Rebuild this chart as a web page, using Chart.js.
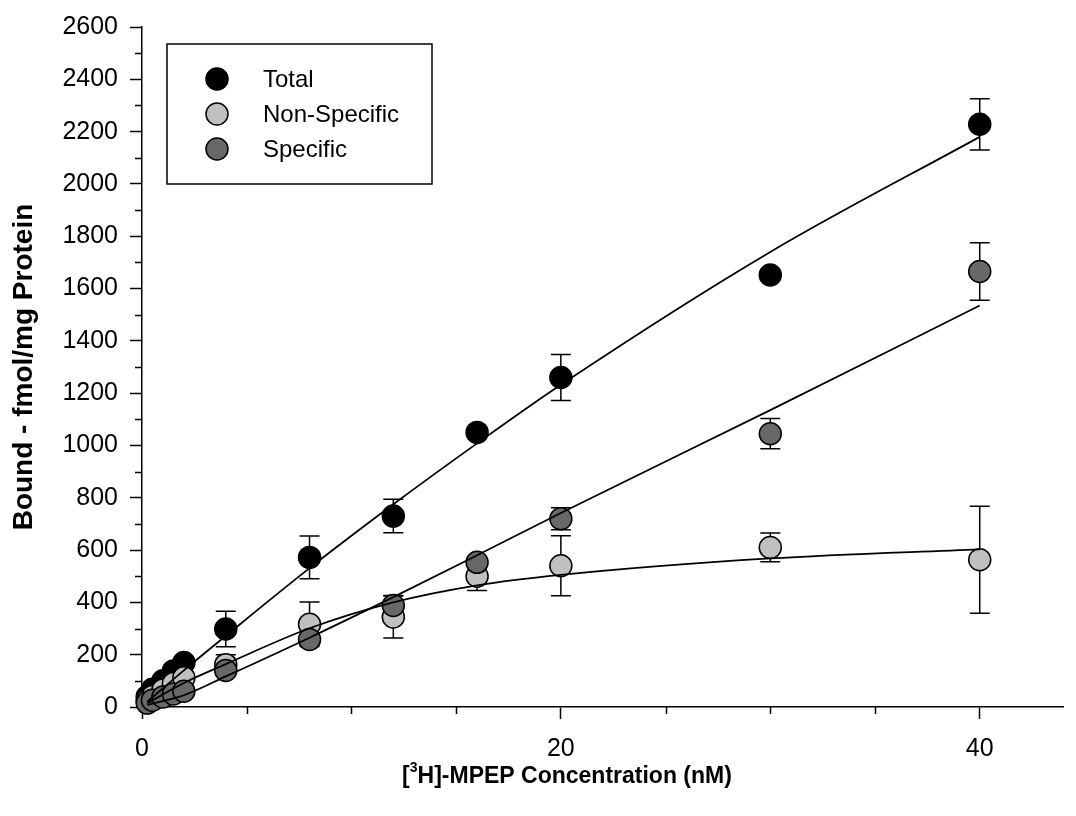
<!DOCTYPE html>
<html lang="en">
<head>
  <meta charset="UTF-8">
  <title>[3H]-MPEP saturation binding</title>
  <script src="https://cdn.jsdelivr.net/npm/chart.js@4.4.1/dist/chart.umd.min.js"></script>
  <style>
    html, body { margin: 0; padding: 0; background: #fff; }
    #chart { display: block; }
  </style>
</head>
<body>
<canvas id="chart" width="1076" height="816"></canvas>
<script>
  // concentrations (nM) of the measured points
  const conc = [0.25, 0.5, 1, 1.5, 2, 4, 8, 12, 16, 20, 30, 40];

  const total    = [40, 68, 100, 138, 170, 298, 572, 730, 1050, 1260, 1652, 2228];
  const totalErr = [5, 8, 10, 14, 20, 68, 82, 64, 15, 88, 10, 98];
  const nonSpec    = [25, 40, 65, 90, 112, 162, 316, 344, 500, 540, 610, 563];
  const nonSpecErr = [4, 6, 8, 10, 14, 38, 85, 80, 55, 115, 55, 205];
  const spec    = [15, 26, 38, 50, 60, 140, 258, 388, 553, 720, 1045, 1665];
  const specErr = [3, 4, 5, 6, 8, 18, 10, 38, 10, 42, 58, 110];

  // fitted curves
  const fitX       = [0.25, 2, 4, 8, 12, 16, 20, 30, 40];
  const totalFit   = [20, 140, 272, 531, 775, 1008, 1232, 1740, 2180];
  const nonSpecFit = [14, 92, 164, 301, 400, 465, 505, 568, 603];
  const specFit    = [8, 45, 117, 265, 420, 580, 742, 1135, 1535];

  const yTicksMajor = 200, yTicksMinor = 100, yMax = 2600;
  const xTicksMajor = 20, xTicksMinor = 5, xMax = 44;

  const FONT = "'Liberation Sans', Arial, Helvetica, sans-serif";
  const pts = (xs, ys) => xs.map((v, i) => ({x: v, y: ys[i]}));

  const fitLine = (ys) => ({
    type: 'line',
    data: pts(fitX, ys),
    borderColor: '#000',
    borderWidth: 1.8,
    pointRadius: 0,
    fill: false,
    cubicInterpolationMode: 'monotone',
    clip: false
  });
  const markers = (label, ys, errs, fill) => ({
    label: label,
    data: pts(conc, ys),
    errors: errs,
    showLine: false,
    pointRadius: 11,
    pointBackgroundColor: fill,
    pointBorderColor: '#000',
    pointBorderWidth: 1.5,
    backgroundColor: fill,
    clip: false
  });

  // first dataset is drawn on top
  const datasets = [
    fitLine(totalFit),
    fitLine(nonSpecFit),
    fitLine(specFit),
    markers('Specific', spec, specErr, '#686868'),
    markers('Non-Specific', nonSpec, nonSpecErr, '#c0c0c0'),
    markers('Total', total, totalErr, '#000000')
  ];
  const legendOrder = ['Total', 'Non-Specific', 'Specific'];

  const errorBars = {
    id: 'errorBars',
    beforeDatasetsDraw(chart) {
      const {ctx, scales: {x, y}} = chart;
      ctx.save();
      ctx.strokeStyle = '#000';
      ctx.lineWidth = 1.5;
      chart.data.datasets.forEach(ds => {
        if (!ds.errors) return;
        ds.data.forEach((p, i) => {
          const e = ds.errors[i];
          if (!e) return;
          const px = x.getPixelForValue(p.x);
          const top = y.getPixelForValue(p.y + e);
          const bot = y.getPixelForValue(p.y - e);
          ctx.beginPath();
          ctx.moveTo(px, top); ctx.lineTo(px, bot);
          ctx.moveTo(px - 10, top); ctx.lineTo(px + 10, top);
          ctx.moveTo(px - 10, bot); ctx.lineTo(px + 10, bot);
          ctx.stroke();
        });
      });
      ctx.restore();
    }
  };

  const minorTicks = {
    id: 'minorTicks',
    beforeDatasetsDraw(chart) {
      const {ctx, chartArea: a, scales: {x, y}} = chart;
      ctx.save();
      ctx.strokeStyle = '#000';
      ctx.lineWidth = 1.5;
      ctx.beginPath();
      for (let v = 0; v <= yMax; v += yTicksMinor) {
        if (v % yTicksMajor === 0) continue;
        const py = Math.round(y.getPixelForValue(v)) + 0.5;
        ctx.moveTo(a.left - 7, py); ctx.lineTo(a.left, py);
      }
      for (let v = 0; v <= xMax; v += xTicksMinor) {
        if (v % xTicksMajor === 0) continue;
        const px = Math.round(x.getPixelForValue(v)) + 0.5;
        ctx.moveTo(px, a.bottom); ctx.lineTo(px, a.bottom + 7);
      }
      ctx.stroke();
      ctx.restore();
    }
  };

  const xTitle = {
    id: 'xTitle',
    afterDraw(chart) {
      const {ctx} = chart;
      const big = 'bold 23px ' + FONT, small = 'bold 14px ' + FONT;
      const parts = [['[', big, 0], ['3', small, -9], ['H]-MPEP Concentration (nM)', big, 0]];
      ctx.save();
      ctx.fillStyle = '#000';
      ctx.textBaseline = 'middle';
      let w = 0;
      parts.forEach(p => { ctx.font = p[1]; w += ctx.measureText(p[0]).width; });
      let cx = 567 - w / 2;
      const cy = 777;
      parts.forEach(p => {
        ctx.font = p[1];
        ctx.fillText(p[0], cx, cy + p[2]);
        cx += ctx.measureText(p[0]).width;
      });
      ctx.restore();
    }
  };

  const boxLegend = {
    id: 'boxLegend',
    afterDatasetsDraw(chart) {
      const {ctx, chartArea: a} = chart;
      const left = a.left + 25, top = a.top + 17, w = 265, h = 140;
      ctx.save();
      ctx.fillStyle = '#fff';
      ctx.fillRect(left, top, w, h);
      ctx.strokeStyle = '#000';
      ctx.lineWidth = 1.5;
      ctx.strokeRect(left, top, w, h);
      ctx.font = '24px ' + FONT;
      ctx.textBaseline = 'middle';
      legendOrder.forEach((name, i) => {
        const ds = chart.data.datasets.find(d => d.label === name);
        const cy = top + 35 + i * 35;
        ctx.beginPath();
        ctx.arc(left + 50, cy, 11, 0, Math.PI * 2);
        ctx.fillStyle = ds.pointBackgroundColor;
        ctx.fill();
        ctx.stroke();
        ctx.fillStyle = '#000';
        ctx.fillText(name, left + 96, cy + 1);
      });
      ctx.restore();
    }
  };

  const majorColor = (step) => (c) =>
    c.tick && c.tick.value % step === 0 ? '#000' : 'rgba(0,0,0,0)';

  new Chart(document.getElementById('chart'), {
    type: 'scatter',
    data: {datasets: datasets},
    options: {
      responsive: false,
      animation: false,
      devicePixelRatio: 1,
      layout: {padding: {top: 19, right: 10, left: 0, bottom: 0}},
      plugins: {legend: {display: false}, tooltip: {enabled: false}},
      scales: {
        x: {
          type: 'linear',
          min: 0,
          max: xMax,
          afterFit(scale) { scale.height = 109; },
          border: {display: true, color: '#000', width: 1.5},
          grid: {drawOnChartArea: false, drawTicks: true, tickLength: 12, tickWidth: 1.5,
                 tickColor: majorColor(xTicksMajor), color: '#000'},
          ticks: {
            stepSize: xTicksMinor,
            includeBounds: false,
            autoSkip: false,
            maxRotation: 0,
            padding: 15,
            color: '#000',
            font: {family: FONT, size: 25},
            callback: (v) => v % xTicksMajor === 0 ? v : ''
          }
        },
        y: {
          type: 'linear',
          min: 0,
          max: yMax,
          afterFit(scale) { scale.width = 142; },
          border: {display: true, color: '#000', width: 1.5},
          grid: {drawOnChartArea: false, drawTicks: true, tickLength: 12, tickWidth: 1.5,
                 tickColor: majorColor(yTicksMajor), color: '#000'},
          ticks: {
            stepSize: yTicksMinor,
            autoSkip: false,
            padding: 12,
            color: '#000',
            font: {family: FONT, size: 25},
            callback: (v) => v % yTicksMajor === 0 ? v : ''
          },
          title: {
            display: true,
            text: 'Bound - fmol/mg Protein',
            color: '#000',
            font: {family: FONT, size: 28, weight: 'bold'},
            padding: {top: 7, bottom: 0}
          }
        }
      }
    },
    plugins: [minorTicks, errorBars, boxLegend, xTitle]
  });
</script>
</body>
</html>
